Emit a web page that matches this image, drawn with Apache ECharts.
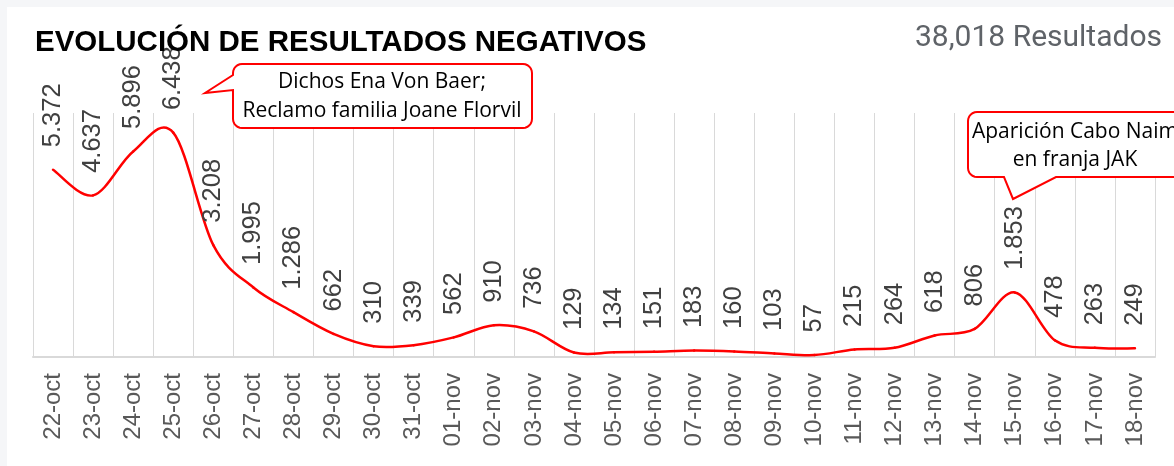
<!DOCTYPE html>
<html>
<head>
<meta charset="utf-8">
<script src="https://cdn.jsdelivr.net/npm/echarts@6/dist/echarts.min.js"></script>
<style>
  html, body { margin: 0; padding: 0; background: #f5f6f8; width: 1174px; height: 466px; overflow: hidden; }
  #chart { position: absolute; left: 7px; top: 7px; width: 1167px; height: 459px; background: #ffffff; }
</style>
</head>
<body>
<div id="chart"></div>
<script>
// ---- data ----
const categories = ['22-oct','23-oct','24-oct','25-oct','26-oct','27-oct','28-oct','29-oct','30-oct','31-oct',
  '01-nov','02-nov','03-nov','04-nov','05-nov','06-nov','07-nov','08-nov','09-nov','10-nov',
  '11-nov','12-nov','13-nov','14-nov','15-nov','16-nov','17-nov','18-nov'];
const negativos = [5372, 4637, 5896, 6438, 3208, 1995, 1286, 662, 310, 339,
  562, 910, 736, 129, 134, 151, 183, 160, 103, 57,
  215, 264, 618, 806, 1853, 478, 263, 249];
const titleText = 'EVOLUCIÓN DE RESULTADOS NEGATIVOS';
const totalText = '38,018 Resultados';
const callout1Lines = ['Dichos Ena Von Baer;', 'Reclamo familia Joane Florvil'];
const callout2Lines = ['Aparición Cabo Naim', 'en franja JAK'];

function fmt(v) { return String(v).replace(/\B(?=(\d{3})+(?!\d))/g, '.'); }

// rounded corner sampling helper (annotation shape)
function arc(cx, cy, r, a0, a1) {
  const pts = [];
  const n = 6;
  for (let i = 0; i <= n; i++) {
    const a = a0 + (a1 - a0) * i / n;
    pts.push([cx + r * Math.cos(a), cy + r * Math.sin(a)]);
  }
  return pts;
}
const P = Math.PI;
function calloutPoints(x0, y0, x1, y1, r, side, b0, b1, tx, ty) {
  let pts = [];
  pts = pts.concat(arc(x0 + r, y0 + r, r, P, 1.5 * P));
  pts = pts.concat(arc(x1 - r, y0 + r, r, 1.5 * P, 2 * P));
  pts = pts.concat(arc(x1 - r, y1 - r, r, 0, 0.5 * P));
  if (side === 'bottom') { pts.push([b1, y1], [tx, ty], [b0, y1]); }
  pts = pts.concat(arc(x0 + r, y1 - r, r, 0.5 * P, P));
  if (side === 'left') { pts.push([x0, b1], [tx, ty], [x0, b0]); }
  return pts;
}

const chart = echarts.init(document.getElementById('chart'), null, { renderer: 'canvas' });
const calloutFont = '21px "Open Sans", "Noto Sans", sans-serif';
const N = negativos.length;

// Smoothed (Catmull-Rom style) segment between point i and i+1, via the axis scales
function renderSegment(params, api) {
  const i = params.dataIndex;
  if (i >= N - 1) return null;
  const pt = k => { const c = Math.max(0, Math.min(N - 1, k)); return api.coord([c, negativos[c]]); };
  const p0 = pt(i - 1), p1 = pt(i), p2 = pt(i + 1), p3 = pt(i + 2);
  const t = 6;
  return {
    type: 'bezierCurve',
    shape: {
      x1: p1[0], y1: p1[1], x2: p2[0], y2: p2[1],
      cpx1: p1[0] + (p2[0] - p0[0]) / t, cpy1: p1[1] + (p2[1] - p0[1]) / t,
      cpx2: p2[0] - (p3[0] - p1[0]) / t, cpy2: p2[1] - (p3[1] - p1[1]) / t
    },
    style: { fill: null, stroke: '#ff0000', lineWidth: 2.5, lineCap: 'round' }
  };
}

chart.setOption({
  animation: false,
  title: [
    { text: titleText, left: 28, top: 21, padding: 0,
      textStyle: { fontFamily: 'Liberation Sans, Arial, sans-serif', fontWeight: 'bold', fontSize: 29.5, color: '#000000' } },
    { text: totalText, right: 12, top: 16, padding: 0,
      textStyle: { fontFamily: 'Roboto, sans-serif', fontWeight: 'normal', fontSize: 30, color: '#5f6368' } }
  ],
  grid: { left: 26, right: 19, top: 106, bottom: 109, containLabel: false, outerBoundsMode: 'none' },
  xAxis: {
    type: 'category',
    data: categories,
    boundaryGap: true,
    axisTick: { show: false },
    axisLine: { show: true, lineStyle: { color: '#d9d9d9', width: 2 } },
    axisLabel: { interval: 0, rotate: 90, margin: 16, color: '#595959', fontSize: 24,
      fontFamily: 'Liberation Sans, Arial, sans-serif' },
    splitLine: { show: true, interval: 0, lineStyle: { color: '#d9d9d9', width: 1 } }
  },
  yAxis: { type: 'value', min: 0, max: 7000, show: false, splitLine: { show: false } },
  series: [
    {
      type: 'custom',
      coordinateSystem: 'cartesian2d',
      data: negativos.map((v, i) => [i, v]),
      encode: { x: 0, y: 1 },
      renderItem: renderSegment,
      silent: true,
      z: 2
    },
    {
      type: 'line',
      data: negativos,
      symbol: 'circle',
      symbolSize: 1,
      itemStyle: { color: 'rgba(255,0,0,0)' },
      lineStyle: { opacity: 0, width: 0 },
      label: {
        show: true, position: 'top', distance: 22, rotate: 90,
        align: 'left', verticalAlign: 'middle',
        color: '#404040', fontSize: 25.5, fontFamily: 'Liberation Sans, Arial, sans-serif',
        formatter: p => fmt(p.value)
      },
      emphasis: { disabled: true },
      z: 3
    }
  ],
  graphic: [
    { type: 'polygon', z: 100, shape: { points: calloutPoints(226, 57, 525, 121, 9, 'left', 68, 83, 198, 86) },
      style: { fill: '#ffffff', stroke: '#ff0000', lineWidth: 2 } },
    { type: 'text', z: 101, x: 375, y: 90,
      style: { text: callout1Lines.join('\n'), font: calloutFont, fill: '#000000', textAlign: 'center', textVerticalAlign: 'middle', lineHeight: 29 } },
    { type: 'polygon', z: 100, shape: { points: calloutPoints(961, 105, 1190, 170, 9, 'bottom', 997, 1049, 1006, 192) },
      style: { fill: '#ffffff', stroke: '#ff0000', lineWidth: 2 } },
    { type: 'text', z: 101, x: 1068, y: 139,
      style: { text: callout2Lines.join('\n'), font: calloutFont, fill: '#000000', textAlign: 'center', textVerticalAlign: 'middle', lineHeight: 28 } }
  ]
});
</script>
</body>
</html>
